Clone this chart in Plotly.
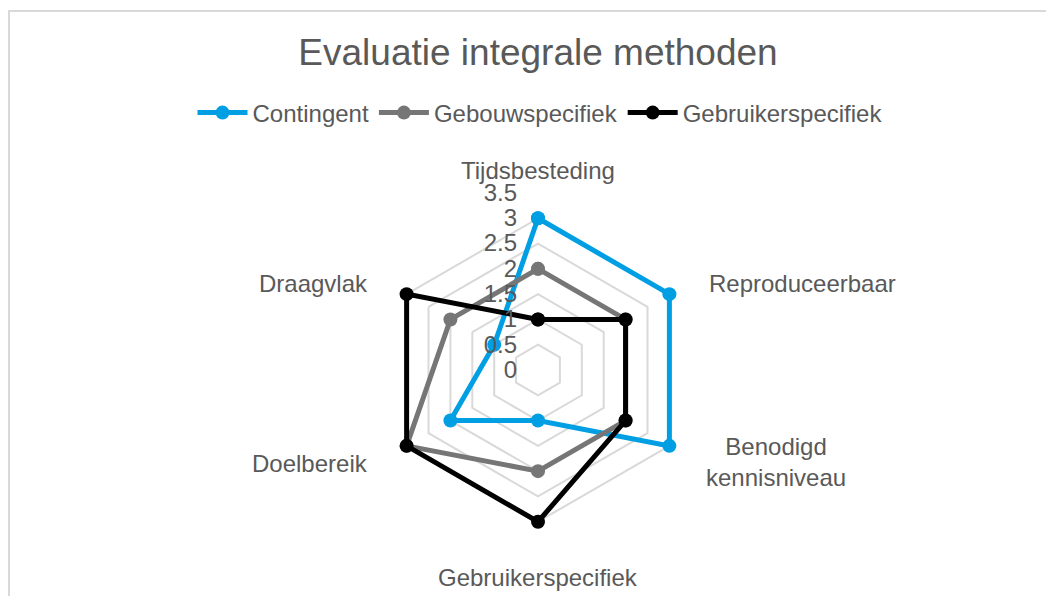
import plotly.graph_objects as go

categories = ["Tijdsbesteding", "Reproduceerbaar", "Benodigd kennisniveau",
              "Gebruikerspecifiek", "Doelbereik", "Draagvlak"]
contingent = [3, 3, 3, 1, 2, 1]
gebouwspecifiek = [2, 2, 2, 2, 3, 2]
gebruikerspecifiek = [1, 2, 2, 3, 3, 3]

series = [
    ("Contingent", contingent, "#009FE3"),
    ("Gebouwspecifiek", gebouwspecifiek, "#767676"),
    ("Gebruikerspecifiek", gebruikerspecifiek, "#000000"),
]

W, H = 1054, 596
OFF = 8  # page body margin
cx, cy, R = 538 - OFF, 370 - OFF, 177

fig = go.Figure()
for name, vals, col in series:
    fig.add_trace(go.Scatterpolar(
        r=vals + vals[:1],
        theta=categories + categories[:1],
        mode="lines+markers",
        name=name,
        line=dict(color=col, width=5),
        marker=dict(color=col, size=14),
    ))

font = "Liberation Sans, Arial, sans-serif"
txt = "#595959"

# category label placement (page pixels) and alignment
label_pos = [
    (538, 170, "center"),
    (707, 283, "left"),
    (776, 462, "center"),
    (538, 577, "center"),
    (370, 463, "right"),
    (370, 283, "right"),
]
annotations = []
for cat, (px, py, al) in zip(categories, label_pos):
    text = cat.replace("Benodigd ", "Benodigd<br>")
    annotations.append(dict(
        text=text, xref="paper", yref="paper",
        x=(px - OFF) / W, y=1 - (py - OFF) / H,
        xanchor=al, yanchor="middle", align="center", showarrow=False,
        font=dict(size=24, color=txt, family=font)))

fig.update_layout(
    width=W, height=H,
    margin=dict(l=0, r=0, t=0, b=0),
    paper_bgcolor="white",
    plot_bgcolor="white",
    font=dict(family=font, color=txt, size=24),
    title=dict(text="Evaluatie integrale methoden", x=(538 - OFF) / W, xanchor="center",
               y=1 - (52 - OFF) / H, yanchor="middle", yref="container",
               font=dict(size=37, color=txt, family=font)),
    legend=dict(orientation="h", x=(540 - OFF) / W, xanchor="center",
                y=1 - (113 - OFF) / H,
                yanchor="middle", font=dict(size=24, color=txt),
                itemwidth=50),
    polar=dict(
        domain=dict(x=[(cx - R) / W, (cx + R) / W],
                    y=[(H - cy - R) / H, (H - cy + R) / H]),
        bgcolor="white",
        gridshape="linear",
        radialaxis=dict(range=[0, 3.5], dtick=0.5, tick0=0, angle=90,
                        side="counterclockwise", showline=False, ticks="",
                        gridcolor="#D9D9D9", gridwidth=1.5,
                        ticksuffix="\u2002\u2009",
                        tickfont=dict(size=24, color=txt), tickangle=90),
        angularaxis=dict(rotation=90, direction="clockwise", showline=False,
                         showgrid=False, ticks="", showticklabels=False),
    ),
    annotations=annotations,
    shapes=[dict(type="rect", xref="paper", yref="paper",
                 x0=(9 - OFF) / W, x1=1.2, y0=-0.2, y1=1 - (11 - OFF) / H,
                 line=dict(color="#D9D9D9", width=2), layer="below")],
)

fig.write_html("out.html")
